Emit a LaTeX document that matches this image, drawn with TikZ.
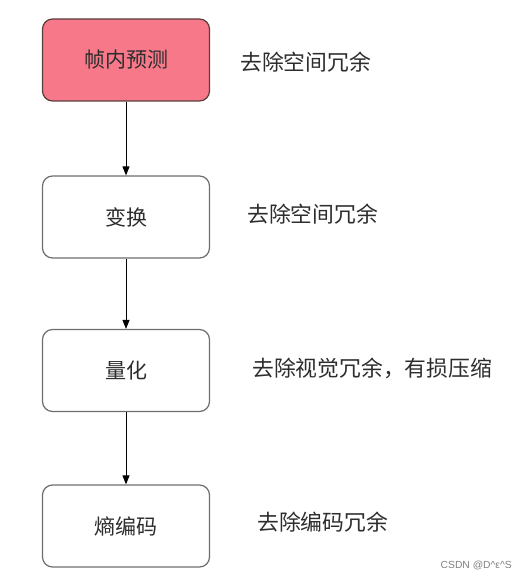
\documentclass[tikz,border=0pt]{standalone}
\usepackage{fontspec}
\setmainfont{Liberation Sans}
\newfontfamily\cjk{Noto Sans CJK SC}
\usetikzlibrary{arrows.meta}
\definecolor{pinkfill}{RGB}{247,121,137}
\definecolor{pinkdraw}{RGB}{90,60,62}
\definecolor{boxdraw}{RGB}{110,110,110}
\definecolor{txt}{RGB}{45,45,45}
\tikzset{
  stepbox/.style={draw=boxdraw, line width=1.2pt, rounded corners=10pt, minimum width=167pt, minimum height=82pt, inner sep=0pt, font=\cjk\fontsize{21}{24}\selectfont, text=txt, fill=white},
  note/.style={anchor=west, inner sep=0pt, font=\cjk\fontsize{21.8}{24}\selectfont, text=txt},
  flow/.style={draw=black, line width=1pt, -{Triangle[length=9pt,width=7pt]}}
}
\begin{document}
\begin{tikzpicture}[x=1pt,y=-1pt]
\useasboundingbox (0,0) rectangle (523,580);
\node[stepbox, fill=pinkfill, draw=pinkdraw] (a) at (126,60) {帧内预测};
\node[stepbox] (b) at (126,217) {变换};
\node[stepbox] (c) at (126,370.5) {量化};
\node[stepbox] (d) at (126,526) {熵编码};
\node[note] (na) at (240,62) {去除空间冗余};
\node[note] (nb) at (247,214) {去除空间冗余};
\node[note] (nc) at (252,368) {去除视觉冗余，有损压缩};
\node[note] (nd) at (257,522) {去除编码冗余};
\draw[flow] (a.south) -- (b.north);
\draw[flow] (b.south) -- (c.north);
\draw[flow] (c.south) -- (d.north);
\node[anchor=east, inner sep=0pt, font=\fontsize{10.3}{12}\selectfont, text=gray] (wm) at (512,565) {CSDN @D\^{}ε\^{}S};
\end{tikzpicture}
\end{document}
